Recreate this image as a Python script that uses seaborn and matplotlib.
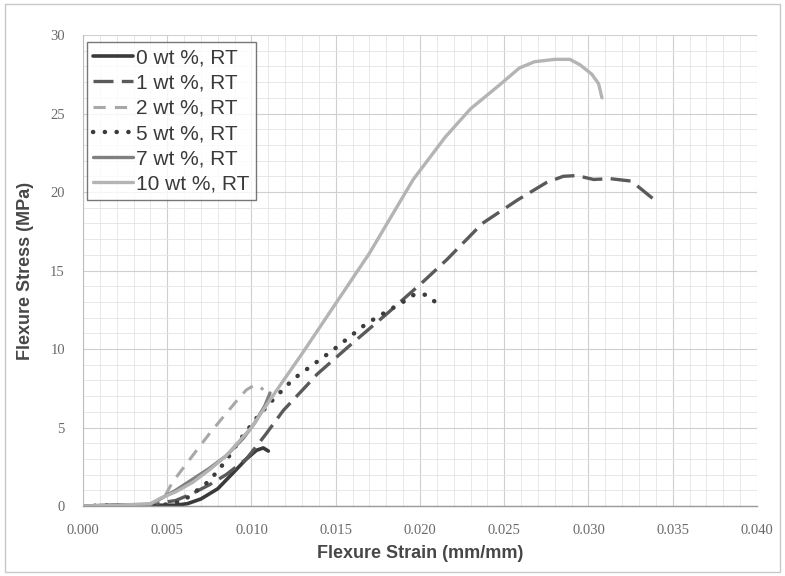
import matplotlib
matplotlib.use("Agg")
import matplotlib.pyplot as plt
from matplotlib.patches import Rectangle
from matplotlib.ticker import MultipleLocator, FormatStrFormatter
import seaborn as sns
import pandas as pd

# Flexure stress-strain curves at room temperature, by filler content
strain_0 = [0.000, 0.002, 0.004, 0.0055, 0.0062, 0.0070, 0.0080, 0.0089, 0.0097, 0.0103, 0.0107, 0.0110]
stress_0 = [0.00, 0.05, 0.05, 0.05, 0.15, 0.45, 1.10, 2.10, 3.00, 3.55, 3.70, 3.50]

strain_1 = [0.000, 0.002, 0.004, 0.0055, 0.0065, 0.0075, 0.0085, 0.0097, 0.0108, 0.0119, 0.0133, 0.0139,
            0.0157, 0.0182, 0.0202, 0.0216, 0.0237, 0.0258, 0.0275, 0.0285, 0.0293, 0.0303,
            0.0313, 0.0325, 0.0330, 0.0338]
stress_1 = [0.00, 0.05, 0.10, 0.35, 0.80, 1.35, 2.00, 3.00, 4.50, 6.10, 7.70, 8.40,
            10.10, 12.40, 14.30, 15.70, 18.00, 19.50, 20.60, 21.00, 21.05, 20.80,
            20.85, 20.70, 20.30, 19.60]

strain_2 = [0.000, 0.002, 0.004, 0.0048, 0.0053, 0.0065, 0.0075, 0.0085, 0.0092, 0.0097, 0.0101, 0.0104, 0.0107]
stress_2 = [0.00, 0.05, 0.10, 0.50, 1.50, 3.20, 4.60, 5.90, 6.80, 7.40, 7.65, 7.70, 7.40]

strain_5 = [0.000, 0.002, 0.004, 0.0050, 0.0057, 0.0063, 0.0075, 0.0085, 0.0093, 0.0103, 0.0113, 0.0125,
            0.0148, 0.0168, 0.0182, 0.0190, 0.0197, 0.0204, 0.0209, 0.0213]
stress_5 = [0.00, 0.05, 0.05, 0.10, 0.25, 0.60, 1.60, 2.90, 4.20, 5.60, 6.80, 8.10,
            9.90, 11.60, 12.50, 13.00, 13.50, 13.45, 13.00, 12.50]

strain_7 = [0.000, 0.002, 0.004, 0.0045, 0.0055, 0.0065, 0.0075, 0.0085, 0.0095, 0.0102, 0.0108, 0.0111]
stress_7 = [0.00, 0.05, 0.10, 0.40, 1.00, 1.70, 2.40, 3.20, 4.30, 5.30, 6.40, 7.20]

strain_10 = [0.000, 0.002, 0.0040, 0.0046, 0.0055, 0.0065, 0.0075, 0.0085, 0.0100, 0.0110, 0.0119, 0.0130,
             0.0150, 0.0170, 0.0196, 0.0215, 0.0230, 0.0247, 0.0259, 0.0268, 0.0280, 0.0289,
             0.0295, 0.0302, 0.0306, 0.0308]
stress_10 = [0.00, 0.05, 0.15, 0.50, 0.90, 1.50, 2.30, 3.20, 5.00, 6.60, 8.00, 9.70,
             12.90, 16.10, 20.80, 23.50, 25.30, 26.80, 27.90, 28.30, 28.45, 28.45,
             28.10, 27.50, 26.90, 26.00]

labels = ["0 wt %, RT", "1 wt %, RT", "2 wt %, RT", "5 wt %, RT", "7 wt %, RT", "10 wt %, RT"]

x_ticks = [0.000, 0.005, 0.010, 0.015, 0.020, 0.025, 0.030, 0.035, 0.040]
y_ticks = [0, 5, 10, 15, 20, 25, 30]

sns.set_style("white")
plt.rcParams["font.family"] = ["Liberation Sans", "DejaVu Sans"]

fig = plt.figure(figsize=(7.85, 5.76), dpi=100)
ax = fig.add_axes([0.1057, 0.1215, 0.8586, 0.8177])

series = [
    (strain_0, stress_0, dict(color="#3a3a3a", linewidth=2.6, linestyle="-")),
    (strain_1, stress_1, dict(color="#5a5a5a", linewidth=2.4, linestyle=(0, (6, 2.5)))),
    (strain_2, stress_2, dict(color="#a8a8a8", linewidth=2.2, linestyle=(0, (4, 3)))),
    (strain_5, stress_5, dict(color="#3c3c3c", linewidth=3.2, linestyle=(0, (0.05, 2.6)),
                              dash_capstyle="round")),
    (strain_7, stress_7, dict(color="#808080", linewidth=2.4, linestyle="-")),
    (strain_10, stress_10, dict(color="#b4b4b4", linewidth=2.4, linestyle="-")),
]

for (xs, ys, style), lab in zip(series, labels):
    df = pd.DataFrame({"strain": xs, "stress": ys})
    sns.lineplot(data=df, x="strain", y="stress", sort=False, ax=ax, label=lab, **style)

ax.set_xlim(0, 0.040)
ax.set_ylim(0, 30)
ax.set_xticks(x_ticks)
ax.set_yticks(y_ticks)
ax.xaxis.set_major_formatter(FormatStrFormatter("%.3f"))
ax.xaxis.set_minor_locator(MultipleLocator(0.001))
ax.yaxis.set_minor_locator(MultipleLocator(1))

ax.grid(which="major", color="#cfcfcf", linewidth=0.8)
ax.grid(which="minor", color="#e4e4e4", linewidth=0.6)
ax.set_axisbelow(True)

for side in ["top", "right"]:
    ax.spines[side].set_visible(False)
ax.spines["left"].set_color("#bdbdbd")
ax.spines["bottom"].set_color("#9a9a9a")
ax.spines["left"].set_linewidth(0.8)
ax.spines["bottom"].set_linewidth(1.0)

ax.tick_params(axis="both", which="major", length=5, color="#a0a0a0", direction="out",
               labelsize=10.5, labelcolor="#6a6a6a", pad=8)
ax.tick_params(axis="both", which="minor", length=0)
for t in ax.get_xticklabels() + ax.get_yticklabels():
    t.set_fontfamily(["Liberation Serif", "DejaVu Serif"])

ax.set_xlabel("Flexure Strain (mm/mm)", fontsize=13, fontweight="bold", color="#474747", labelpad=6)
ax.set_ylabel("Flexure Stress (MPa)", fontsize=13, fontweight="bold", color="#474747", labelpad=12)

leg = ax.legend(loc="upper left", bbox_to_anchor=(0.006, 0.985), fontsize=15, frameon=True,
                fancybox=False, edgecolor="#555555", handlelength=1.9, handletextpad=0.15,
                labelspacing=0.3, borderpad=0.3, borderaxespad=0.0)
leg.get_frame().set_linewidth(1.0)
for txt in leg.get_texts():
    txt.set_color("#3a3a3a")

# thin border around the whole figure
fig.patches.append(Rectangle((0.007, 0.007), 0.986, 0.986, transform=fig.transFigure,
                             fill=False, edgecolor="#c8c8c8", linewidth=1.0))

fig.savefig("out.png", dpi=100)
